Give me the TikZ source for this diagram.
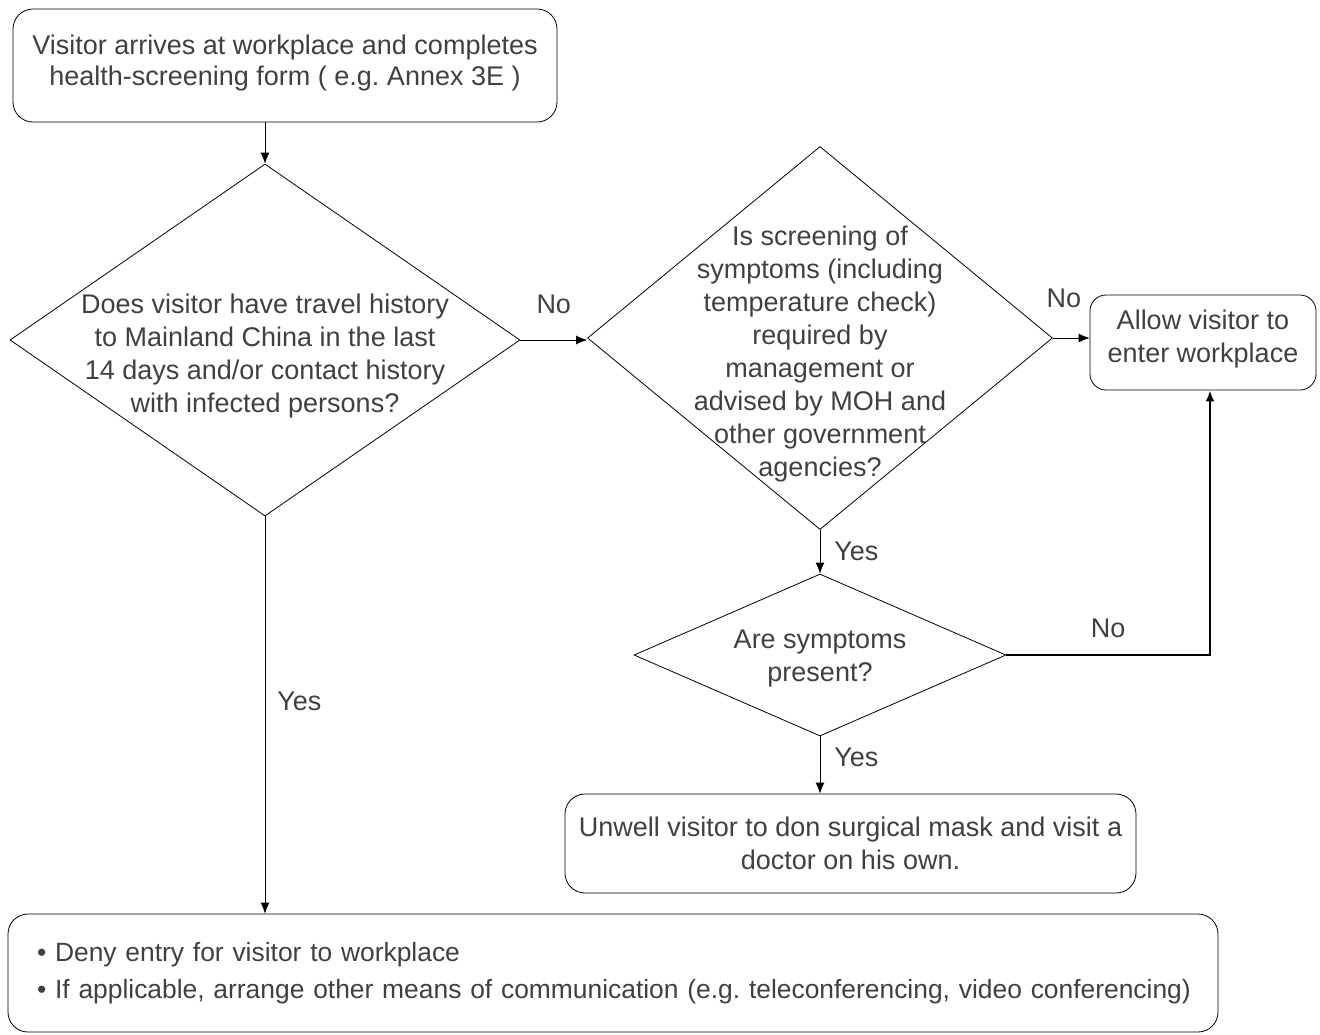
\documentclass[tikz,border=0pt]{standalone}
\usepackage{fontspec}
\setmainfont{Liberation Sans}
\usepackage{xcolor}
\usetikzlibrary{shapes,arrows.meta,calc,positioning}
\definecolor{txtgray}{RGB}{64,64,64}
\newcommand{\flowfont}{\fontsize{13.5}{16.5}\selectfont}
\frenchspacing
\tikzset{
    -{Latex[length=5.5pt,width=4.5pt]},auto,line width=0.9pt,
    box/.style ={rectangle, draw, rounded corners=10pt, align=center, text=txtgray, font=\flowfont},
    decision/.style = {diamond, draw, inner sep=0pt},
    qtext/.style = {align=center, text=txtgray, font=\flowfont},
    el/.style = {inner sep=3pt, text=txtgray, font=\flowfont}
}
\begin{document}
\begin{tikzpicture}[x=0.5pt, y=-0.5pt]
    \useasboundingbox (0,0) rectangle (1320,1034);

    % Nodes
    \node[box, minimum width=272pt, minimum height=56.5pt, font=\fontsize{13.5}{15.5}\selectfont] (start) at (285,65.5)
        {Visitor arrives at workplace and completes\\health-screening form ( e.g. Annex 3E )\\[-10.5pt]};
    \node[decision, minimum width=255pt, minimum height=176pt,
        label={[qtext, yshift=-8pt]center:{Does visitor have travel history\\to Mainland China in the last\\14 days and/or contact history\\with infected persons?}}] (travel) at (265,340) {};
    \node[decision, minimum width=232.5pt, minimum height=191.5pt,
        label={[qtext, yshift=-8pt]center:{Is screening of\\symptoms (including\\temperature check)\\required by\\management or\\advised by MOH and\\other government\\agencies?}}] (screen) at (820,338) {};
    \node[box, rounded corners=8pt, minimum width=113pt, minimum height=47.5pt] (allow) at (1203,342.5)
        {Allow visitor to\\enter workplace\\[-10pt]};
    \node[decision, minimum width=186pt, minimum height=81pt,
        label={[qtext, yshift=-1.5pt]center:{Are symptoms\\present?}}] (symp) at (820,655) {};
    \node[box, minimum width=285.5pt, minimum height=49.5pt] (unwell) at (850.5,843.5)
        {Unwell visitor to don surgical mask and visit a\\doctor on his own.};
    \node[box, text width=576pt, inner xsep=14.5pt, minimum height=59pt, align=left,
        font=\fontsize{13.2}{18.5}\selectfont] (deny) at (613,973)
        {\mbox{• Deny entry for visitor to workplace}\\\mbox{• If applicable, arrange other means of communication (e.g. teleconferencing, video conferencing)}};
    \coordinate (turn) at ([xshift=3.5pt]allow.south |- symp.east);

    % Edges
    \draw (start.south -| travel.north) -- (travel.north);
    \draw (travel.east) -- node[el, above=10pt]{No} (travel.east -| screen.west);
    \draw (screen.east) -- node[el, above=12pt, pos=0.3]{No} (screen.east -| allow.west);
    \draw (screen.south) -- node[el, right=4pt]{Yes} (symp.north);
    \draw (symp.south) -- node[el, right=4pt, pos=0.36]{Yes} (symp.south |- unwell.north);
    \draw[line width=1.4pt] (symp.east) -- node[el, above=5pt]{No} (turn) -- ([xshift=3.5pt]allow.south);
    \draw (travel.south) -- node[el, right=3pt, pos=0.465]{Yes} (travel.south |- deny.north);

\end{tikzpicture}
\end{document}
